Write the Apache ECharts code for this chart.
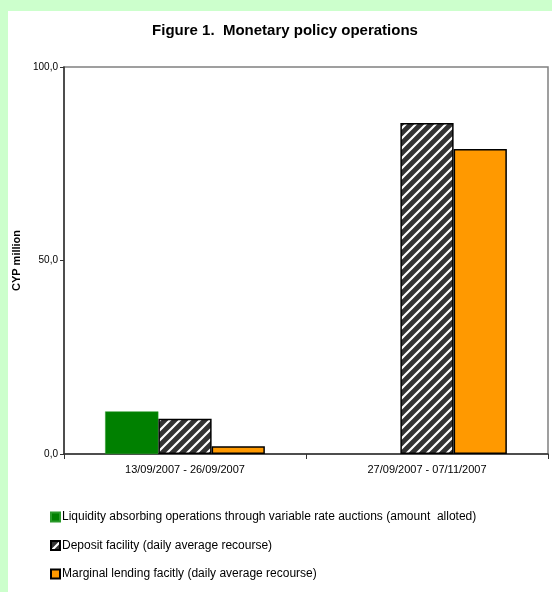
<!DOCTYPE html>
<html>
<head>
<meta charset="utf-8">
<script src="https://cdn.jsdelivr.net/npm/echarts@6/dist/echarts.min.js"></script>
<style>
  html, body { margin: 0; padding: 0; background: #CCFFCC; }
  #chart { width: 552px; height: 592px; }
</style>
</head>
<body>
<div id="chart"></div>
<script>
// Reporting periods
const categories = ['13/09/2007 - 26/09/2007', '27/09/2007 - 07/11/2007'];

// CYP million
const liquidityAbsorbing = [11.0, null];
const depositFacility = [9.1, 85.5];
const marginalLending = [2.0, 78.8];

const seriesNames = [
  'Liquidity absorbing operations through variable rate auctions (amount  alloted)',
  'Deposit facility (daily average recourse)',
  'Marginal lending facitly (daily average recourse)'
];

const yTicks = [0, 50, 100];

// Diagonal white stripes on dark grey for the deposit facility bars
function hatchPattern() {
  const c = document.createElement('canvas');
  const s = 10;
  c.width = s; c.height = s;
  const ctx = c.getContext('2d');
  ctx.fillStyle = '#333333';
  ctx.fillRect(0, 0, s, s);
  ctx.strokeStyle = '#ffffff';
  ctx.lineWidth = 2.2;
  ctx.beginPath();
  ctx.moveTo(-1, s + 1); ctx.lineTo(s + 1, -1);
  ctx.moveTo(-1 - s, s + 1); ctx.lineTo(1, -1);
  ctx.moveTo(s - 1, s + 1); ctx.lineTo(2 * s + 1, -1);
  ctx.stroke();
  return c;
}

const chart = echarts.init(document.getElementById('chart'), null, { renderer: 'canvas' });

const font = 'Arial, "Liberation Sans", sans-serif';

chart.setOption({
  backgroundColor: '#CCFFCC',
  animation: false,
  textStyle: { fontFamily: font },
  graphic: [{
    type: 'rect',
    left: 8, top: 11,
    shape: { width: 544, height: 581 },
    style: { fill: '#ffffff' },
    z: -10, silent: true
  }],
  title: {
    text: 'Figure 1.  Monetary policy operations',
    left: 280, top: 18, textAlign: 'center',
    textStyle: { fontFamily: font, fontSize: 15, fontWeight: 'bold', color: '#000' }
  },
  legend: {
    orient: 'vertical',
    left: 45, top: 505,
    itemWidth: 9, itemHeight: 9, itemGap: 14.5,
    icon: 'rect',
    data: seriesNames,
    textStyle: { fontFamily: font, fontSize: 12, lineHeight: 14, color: '#000', padding: [0, 0, 0, -3] }
  },
  grid: {
    left: 64, right: 4, top: 67, bottom: 138,
    show: true, borderColor: '#808080', borderWidth: 1.5, backgroundColor: 'transparent'
  },
  xAxis: {
    type: 'category',
    data: categories,
    axisLine: { lineStyle: { color: '#333', width: 1.5 } },
    axisTick: { show: true, length: 5, alignWithLabel: false, lineStyle: { color: '#333' } },
    axisLabel: { fontFamily: font, fontSize: 11, color: '#000', margin: 10 }
  },
  yAxis: {
    type: 'value',
    min: yTicks[0], max: yTicks[yTicks.length - 1], interval: yTicks[1] - yTicks[0],
    name: 'CYP million',
    nameLocation: 'middle', nameGap: 34,
    nameTextStyle: { fontFamily: font, fontSize: 11, fontWeight: 'bold', color: '#000' },
    axisLine: { show: true, lineStyle: { color: '#333', width: 1.5 } },
    axisTick: { show: true, length: 4, lineStyle: { color: '#333' } },
    splitLine: { show: false },
    axisLabel: {
      fontFamily: font, fontSize: 10, color: '#000', margin: 6,
      formatter: v => v.toFixed(1).replace('.', ',')
    }
  },
  series: [
    {
      name: seriesNames[0], type: 'bar', data: liquidityAbsorbing,
      barGap: '0%', barCategoryGap: '34%',
      itemStyle: { color: '#008000', borderColor: '#2a9a2a', borderWidth: 0.5 }
    },
    {
      name: seriesNames[1], type: 'bar', data: depositFacility,
      itemStyle: { color: { image: hatchPattern(), repeat: 'repeat' }, borderColor: '#000', borderWidth: 1.5 }
    },
    {
      name: seriesNames[2], type: 'bar', data: marginalLending,
      itemStyle: { color: '#FF9900', borderColor: '#000', borderWidth: 1.5 }
    }
  ]
});
</script>
</body>
</html>
